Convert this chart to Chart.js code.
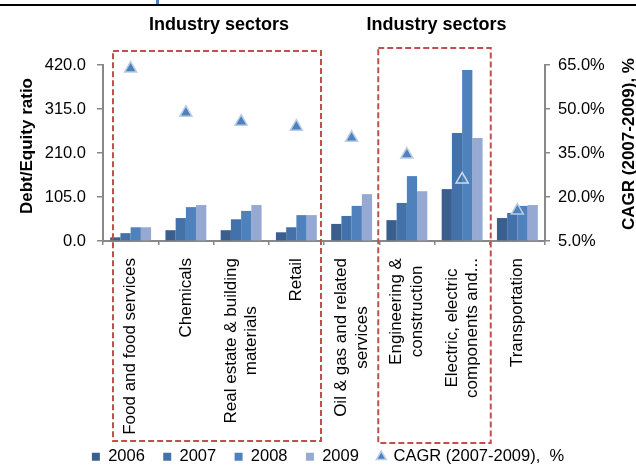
<!DOCTYPE html>
<html>
<head>
<meta charset="utf-8">
<script src="https://cdn.jsdelivr.net/npm/chart.js@4.4.1/dist/chart.umd.min.js"></script>
<style>
  html, body { margin: 0; padding: 0; background: #fff; }
  #wrap { width: 636px; height: 468px; }
</style>
</head>
<body>
<div id="wrap"><canvas id="chart"></canvas></div>
<script>
const categories = [
  'Food and food services',
  'Chemicals',
  ['Real estate & building', 'materials'],
  'Retail',
  ['Oil & gas and related', 'services'],
  ['Engineering &', 'construction'],
  ['Electric, electric', 'components and...'],
  'Transportation'
];
const years = ['2006', '2007', '2008', '2009'];
const ratio2006 = [9, 26, 26, 21, 41, 50, 124, 55];
const ratio2007 = [19, 55, 52, 33, 60, 91, 258, 67];
const ratio2008 = [33, 81, 72, 62, 84, 155, 408, 84];
const ratio2009 = [33, 86, 86, 62, 112, 119, 246, 86];
const cagrLabel = 'CAGR (2007-2009),  %';
const cagr = [63.8, 48.7, 45.7, 44.0, 40.2, 34.5, 26.0, 15.4];
const ratioTicks = [0, 105, 210, 315, 420];
const cagrTicks = [5, 20, 35, 50, 65];
const groupTitle = 'Industry sectors';
const groupSpans = [[0, 3], [5, 6]];

const FONT = '"Liberation Sans", Arial, sans-serif';
const barColors = ['#3a5f8e', '#4372aa', '#4f81bd', '#95a9d2'];
const ratioSeries = [ratio2006, ratio2007, ratio2008, ratio2009];

// rahmen, titel und achsentitel
const decor = {
  id: 'decor',
  afterLayout(chart) {
    const lg = chart.legend;
    lg.left += 10; lg.right += 10;
    lg.top += 7; lg.bottom += 7;
    // labels sonst am unteren rand der achse abgeschnitten
    chart.scales.x.bottom = chart.height;
  },
  beforeDraw(chart) {
    // mehrzeilige labels wie in excel zentrieren
    const xs = chart.scales.x;
    const ctx = chart.ctx;
    const items = xs.getLabelItems(chart.chartArea);
    items.forEach(it => {
      if (!Array.isArray(it.label) || it.options.textAlign === 'center') return;
      ctx.save();
      ctx.font = it.font.string;
      const w = Math.max(...it.label.map(t => ctx.measureText(t).width));
      ctx.restore();
      const n = it.label.length;
      it.options.translation[0] -= (n - 1) * it.font.lineHeight / 2;
      it.options.translation[1] += w / 2;
      it.options.textAlign = 'center';
    });
  },
  afterDraw(chart) {
    const ctx = chart.ctx;
    const xs = chart.scales.x;
    const area = chart.chartArea;
    const half = (xs.getPixelForValue(1) - xs.getPixelForValue(0)) / 2;
    ctx.save();

    // linie oben
    ctx.fillStyle = '#000';
    ctx.fillRect(0, 4, chart.width, 2);
    ctx.fillStyle = '#4f81bd';
    ctx.fillRect(156, 0, 3, 4);

    const boxes = [
      { inL: 10, inR: -3, top: area.top - 14, bottom: area.bottom + 200 },
      { inL: -1, inR: 1, top: area.top - 17, bottom: area.bottom + 202 }
    ];
    groupSpans.forEach(([a, b], i) => {
      const bx = boxes[i];
      const l = xs.getPixelForValue(a) - half + bx.inL;
      const r = xs.getPixelForValue(b) + half + bx.inR;
      ctx.strokeStyle = '#c0504d';
      ctx.lineWidth = 2;
      ctx.setLineDash([6, 3]);
      ctx.strokeRect(l, bx.top, r - l, bx.bottom - bx.top);
      ctx.setLineDash([]);
      ctx.fillStyle = '#000';
      ctx.font = 'bold 18px ' + FONT;
      ctx.textAlign = 'center';
      ctx.textBaseline = 'middle';
      ctx.fillText(groupTitle, (l + r) / 2 + 2, 25);
    });

    // achsentitel
    ctx.font = 'bold 17px ' + FONT;
    ctx.fillStyle = '#000';
    ctx.textAlign = 'center';
    ctx.textBaseline = 'middle';
    ctx.save();
    ctx.translate(27, 146);
    ctx.rotate(-Math.PI / 2);
    ctx.fillText('Debt/Equity ratio', 0, 0);
    ctx.restore();
    ctx.save();
    ctx.translate(629, 144);
    ctx.rotate(-Math.PI / 2);
    ctx.fillText('CAGR (2007-2009), %', 0, 0);
    ctx.restore();

    ctx.restore();
  }
};

const datasets = years.map((y, i) => ({
  type: 'bar',
  label: y,
  data: ratioSeries[i],
  backgroundColor: barColors[i],
  borderWidth: 0,
  yAxisID: 'y',
  order: 2,
  categoryPercentage: 0.74,
  barPercentage: 1.0
}));
datasets.push({
  type: 'line',
  label: cagrLabel,
  data: cagr,
  yAxisID: 'y1',
  showLine: false,
  clip: false,
  order: 1,
  pointStyle: 'triangle',
  pointRadius: 7,
  pointHoverRadius: 7,
  backgroundColor: '#4f81bd',
  borderColor: '#b9cde5',
  pointBackgroundColor: c => (c.dataIndex === 6 ? 'rgba(0,0,0,0)' : '#4f81bd'),
  pointBorderColor: c => (c.dataIndex === 6 ? '#d0dcec' : '#b9cde5'),
  pointBorderWidth: 1.5
});

new Chart(document.getElementById('chart'), {
  data: { labels: categories, datasets: datasets },
  options: {
    responsive: true,
    maintainAspectRatio: false,
    animation: false,
    layout: { padding: { top: 65, left: 0, right: 0, bottom: 0 } },
    plugins: {
      tooltip: { enabled: false },
      legend: {
        position: 'bottom',
        labels: {
          usePointStyle: true,
          boxWidth: 8,
          boxHeight: 8,
          padding: 18.4,
          color: '#000',
          font: { size: 16.5, family: FONT },
          sort: (a, b) => a.datasetIndex - b.datasetIndex,
          generateLabels(chart) {
            const items = Chart.defaults.plugins.legend.labels.generateLabels(chart);
            items.forEach(it => { if (it.datasetIndex < years.length) it.pointStyle = 'rect'; });
            return items;
          }
        }
      }
    },
    scales: {
      x: {
        type: 'category',
        offset: true,
        grid: { display: true, drawOnChartArea: false, drawTicks: true, tickLength: 4, color: '#888', lineWidth: 1.5, offset: true },
        border: { display: true, color: '#888', width: 2 },
        ticks: { autoSkip: false, maxRotation: 90, minRotation: 90, padding: 13, color: '#000', font: { size: 17, family: FONT } },
        afterFit(s) { s.height = 182; }
      },
      y: {
        position: 'left',
        min: ratioTicks[0],
        max: ratioTicks[ratioTicks.length - 1],
        grid: { display: true, drawOnChartArea: false, drawTicks: true, tickLength: 6, color: '#888', lineWidth: 1.5 },
        border: { display: true, color: '#888', width: 2 },
        ticks: {
          stepSize: ratioTicks[1] - ratioTicks[0],
          padding: 11,
          color: '#000',
          font: { size: 16.5, family: FONT },
          callback: v => v.toFixed(1)
        },
        afterFit(s) { s.width = 103; }
      },
      y1: {
        position: 'right',
        min: cagrTicks[0],
        max: cagrTicks[cagrTicks.length - 1],
        grid: { display: true, drawOnChartArea: false, drawTicks: true, tickLength: 5, color: '#888', lineWidth: 1.5 },
        border: { display: true, color: '#888', width: 2 },
        ticks: {
          stepSize: cagrTicks[1] - cagrTicks[0],
          padding: 8,
          color: '#000',
          font: { size: 16.5, family: FONT },
          callback: v => v.toFixed(1) + '%'
        },
        afterFit(s) { s.width = 91; }
      }
    }
  },
  plugins: [decor]
});
</script>
</body>
</html>
